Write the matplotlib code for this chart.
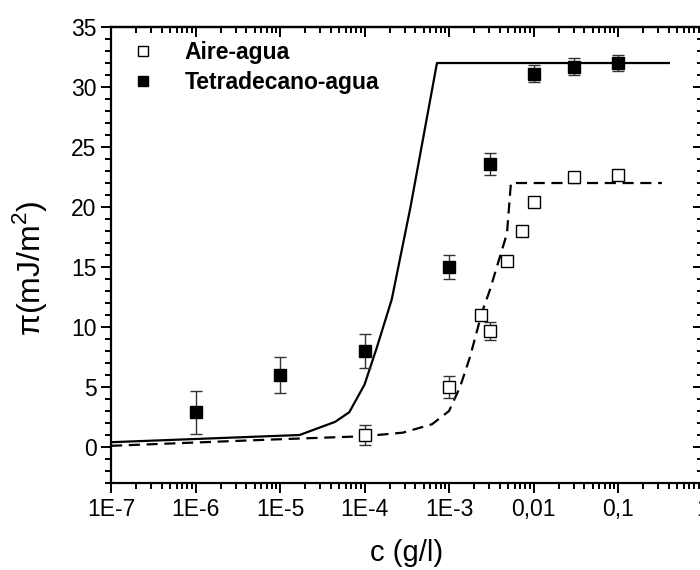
import numpy as np
import matplotlib.pyplot as plt
from matplotlib.lines import Line2D
from matplotlib.ticker import FixedLocator, FixedFormatter, LogLocator, NullFormatter, MultipleLocator

plt.rcParams['font.family'] = ['Liberation Sans', 'DejaVu Sans']
plt.rcParams['mathtext.fontset'] = 'custom'
plt.rcParams['mathtext.rm'] = 'Liberation Sans'

# air-water (open squares)
c_aire = [1e-4, 1e-3, 2.4e-3, 3.05e-3, 4.85e-3, 7.3e-3, 1e-2, 3e-2, 1e-1]
pi_aire = [1.0, 5.0, 11.0, 9.7, 15.5, 18.0, 20.4, 22.5, 22.7]
err_aire = [0.8, 0.9, 0.3, 0.75, 0.3, 0.4, 0.4, 0.3, 0.3]

# tetradecane-water (filled squares)
c_tetra = [1e-6, 1e-5, 1e-4, 1e-3, 3.05e-3, 1e-2, 3e-2, 1e-1]
pi_tetra = [2.9, 6.0, 8.0, 15.0, 23.6, 31.1, 31.7, 32.0]
err_tetra = [1.8, 1.5, 1.4, 1.0, 0.9, 0.7, 0.7, 0.7]

# model curves
c_fit_tetra = [1e-7, 1.7e-5, 4.5e-5, 6.6e-5, 1.0e-4, 1.4e-4, 2.1e-4, 3.5e-4, 7.2e-4, 0.4]
pi_fit_tetra = [0.4, 1.0, 2.1, 2.9, 5.2, 8.3, 12.3, 20.0, 32.0, 32.0]
c_fit_aire = [1e-7, 1e-5, 1e-4, 2.86e-4, 6.3e-4, 1e-3, 1.35e-3, 1.77e-3, 2.45e-3, 3.05e-3, 4.85e-3, 5.4e-3, 0.33]
pi_fit_aire = [0.1, 0.65, 0.9, 1.2, 1.9, 3.0, 5.0, 7.5, 11.2, 13.1, 17.8, 22.0, 22.0]

xticks = [1e-7, 1e-6, 1e-5, 1e-4, 1e-3, 1e-2, 1e-1, 1]
xticklabels = ['1E-7', '1E-6', '1E-5', '1E-4', '1E-3', '0,01', '0,1', '1']

fig = plt.figure(figsize=(7, 5.7), dpi=100)
ax = fig.add_axes([0.1586, 0.1526, 0.845, 0.800])

ax.plot(c_fit_tetra, pi_fit_tetra, '-', color='black', lw=1.6)
ax.plot(c_fit_aire, pi_fit_aire, '--', color='black', lw=1.6, dashes=(5, 3))

ax.errorbar(c_aire, pi_aire, yerr=err_aire, fmt='s', mfc='white', mec='black', mew=1,
            ms=9, ecolor='#333333', elinewidth=1, capsize=4, capthick=1, zorder=3)
ax.errorbar(c_tetra, pi_tetra, yerr=err_tetra, fmt='s', mfc='black', mec='black', mew=1,
            ms=9, ecolor='#333333', elinewidth=1, capsize=4, capthick=1, zorder=3)

ax.set_xscale('log')
ax.set_xlim(1e-7, 1)
ax.set_ylim(-3, 35)
ax.xaxis.set_major_locator(FixedLocator(xticks))
ax.xaxis.set_major_formatter(FixedFormatter(xticklabels))
ax.xaxis.set_minor_locator(LogLocator(base=10, subs=np.arange(2, 10), numticks=20))
ax.xaxis.set_minor_formatter(NullFormatter())
ax.yaxis.set_major_locator(MultipleLocator(5))
ax.yaxis.set_minor_locator(MultipleLocator(1))

for s in ax.spines.values():
    s.set_linewidth(1.6)
ax.tick_params(which='both', direction='out', width=1.4, labelsize=16.5, top=False, right=False)
ax.tick_params(which='major', length=7)
ax.tick_params(which='minor', length=4)

# top and right axes with inward ticks
top = ax.secondary_xaxis('top')
top.xaxis.set_major_locator(FixedLocator(xticks))
top.xaxis.set_minor_locator(LogLocator(base=10, subs=np.arange(2, 10), numticks=20))
top.tick_params(which='both', direction='in', width=1.4, labeltop=False)
top.tick_params(which='major', length=7)
top.tick_params(which='minor', length=4)
top.xaxis.set_minor_formatter(NullFormatter())
right = ax.secondary_yaxis('right')
right.yaxis.set_major_locator(MultipleLocator(5))
right.yaxis.set_minor_locator(MultipleLocator(1))
right.tick_params(which='both', direction='in', width=1.4, labelright=False)
right.tick_params(which='major', length=7)
right.tick_params(which='minor', length=4)
for sa in (top, right):
    for s in sa.spines.values():
        s.set_linewidth(1.6)

ax.set_xlabel('c (g/l)', fontsize=21, labelpad=13)
ax.set_ylabel('π(mJ/m$^2$)', fontsize=23)
ax.yaxis.set_label_coords(-0.105, 0.47)

handles = [
    Line2D([], [], ls='none', marker='s', ms=7, mfc='white', mec='black', mew=1),
    Line2D([], [], ls='none', marker='s', ms=7, mfc='black', mec='black', mew=1),
]
ax.legend(handles, ['Aire-agua', 'Tetradecano-agua'], loc='upper left',
          bbox_to_anchor=(0.0, 1.015), frameon=False, handlelength=1.0,
          handletextpad=1.3, labelspacing=0.3, prop={'weight': 'bold', 'size': 16.5})

fig.savefig('out.png', dpi=100)
